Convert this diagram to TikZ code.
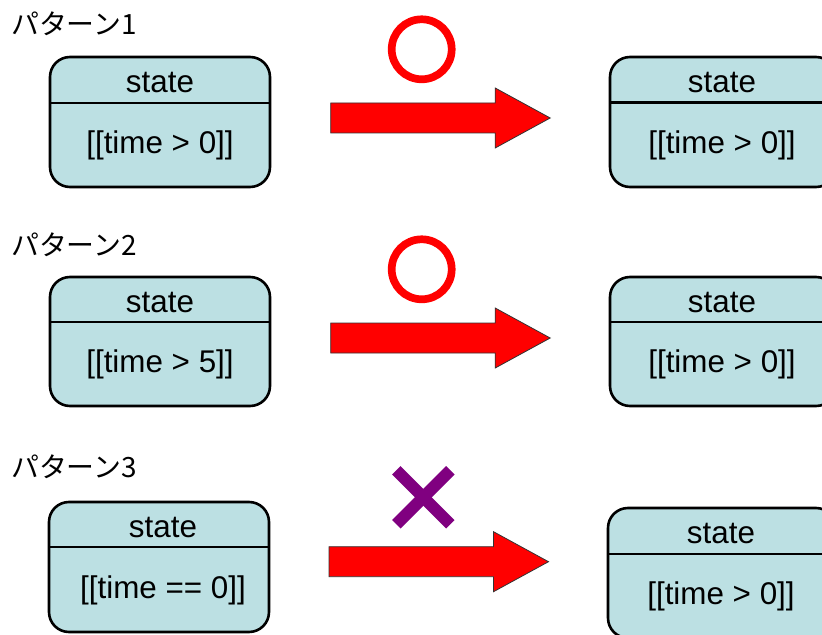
\documentclass[tikz,border=0pt]{standalone}
\usepackage{fontspec}
\setmainfont{Liberation Sans}
\newfontfamily\jpfont{Noto Sans CJK JP}
\usetikzlibrary{calc}
\definecolor{stateblue}{RGB}{188,224,227}
\definecolor{okred}{RGB}{255,0,0}
\definecolor{ngpurple}{RGB}{128,0,128}
\tikzset{
  statebox/.style={draw=black, line width=2.6bp, fill=stateblue, rounded corners=20bp, inner sep=0pt, outer sep=0pt},
  divider/.style={draw=black, line width=2.4bp},
  statetext/.style={inner sep=0pt, font=\fontsize{31.5}{36}\selectfont},
  patlabel/.style={inner sep=0pt, anchor=base west, font=\jpfont\fontsize{28}{32}\selectfont},
  bigarrow/.style={fill=okred, draw=black!80, line width=0.8bp, line join=miter},
  okmark/.style={draw=okred, line width=7.7bp},
  ngmark/.style={draw=ngpurple, line width=12bp}
}
% #1 name, #2 left, #3 top, #4 right, #5 bottom, #6 divider y, #7 text centre x, #8 body text
\newcommand\mystatebox[8]{%
  \node[statebox, anchor=north west, minimum width=(#4-#2)*1bp, minimum height=(#5-#3)*1bp] (#1) at (#2,#3) {};
  \draw[divider] (#1.west |- 0,#6) -- (#1.east |- 0,#6);
  \node[statetext] (#1-title) at (#7,{(#3+#6)/2+3}) {state};
  \node[statetext] (#1-body) at (#7,{(#6+#5)/2+0.5}) {#8};
}
% #1 name, #2 left x, #3 centre y
\newcommand\myblockarrow[3]{%
  \coordinate (#1) at (#2,#3);
  \draw[bigarrow] ($(#1)+(0,-15)$) -- ++(164.5,0) -- ++(0,-15) -- ($(#1)+(219.5,0)$)
     -- ($(#1)+(164.5,30)$) -- ++(0,-15) -- ($(#1)+(0,15)$) -- cycle;
}
\begin{document}
\begin{tikzpicture}[x=1bp,y=-1bp]
\useasboundingbox (0,0) rectangle (822,635);
\clip (0,0) rectangle (822,635);
\fill[white] (0,0) rectangle (822,635);

% Pattern 1
\node[patlabel] (lab1) at (11,35) {パターン1};
\mystatebox{l1}{50}{57}{270}{187}{103}{160}{[[time > 0]]}
\mystatebox{r1}{610}{57}{836}{187}{102.5}{722}{[[time > 0]]}
\myblockarrow{a1}{330.7}{118}
\node[circle, okmark, minimum size=60bp, inner sep=0pt] (ok1) at (421.7,49.3) {};

% Pattern 2
\node[patlabel] (lab2) at (11,255) {パターン2};
\mystatebox{l2}{50}{277}{270}{406}{322}{160}{[[time > 5]]}
\mystatebox{r2}{610}{277}{836}{406}{322}{722}{[[time > 0]]}
\myblockarrow{a2}{330.7}{338}
\node[circle, okmark, minimum size=60bp, inner sep=0pt] (ok2) at (421.7,269.3) {};

% Pattern 3
\node[patlabel] (lab3) at (11,477) {パターン3};
\mystatebox{l3}{49}{502}{269}{632}{547}{163}{[[time == 0]]}
\mystatebox{r3}{608}{508}{836}{638}{554}{721}{[[time > 0]]}
\myblockarrow{a3}{329}{561.7}
\coordinate (ng) at (423.3,497.3);
\draw[ngmark] ($(ng)+(-27,-27)$) -- ($(ng)+(27,27)$);
\draw[ngmark] ($(ng)+(-27,27)$) -- ($(ng)+(27,-27)$);
\end{tikzpicture}
\end{document}
